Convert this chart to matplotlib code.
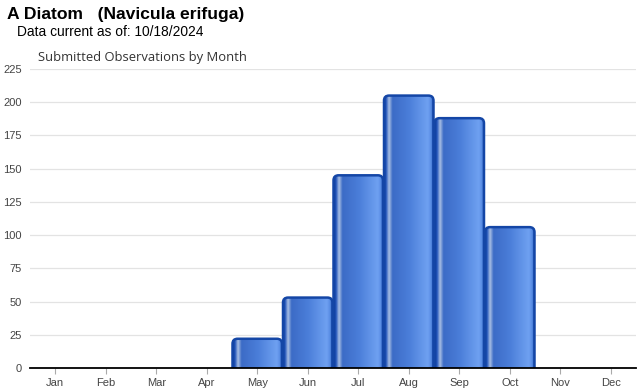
import numpy as np
import matplotlib.pyplot as plt
from matplotlib.patches import FancyBboxPatch
from matplotlib.colors import to_rgb

months = ["Jan", "Feb", "Mar", "Apr", "May", "Jun",
          "Jul", "Aug", "Sep", "Oct", "Nov", "Dec"]
counts = [0, 0, 0, 0, 22, 53, 145, 205, 188, 106, 0, 0]
yticks = [0, 25, 50, 75, 100, 125, 150, 175, 200, 225]

W, H = 640, 390
fig = plt.figure(figsize=(W / 100, H / 100), dpi=100)
ax = fig.add_axes([30 / W, (H - 368) / H, (636 - 30) / W, (368 - 69) / H])

# horizontal gradient used to fill each bar (glassy look)
stops = [(0.00, "#0b3a9a"), (0.04, "#2456ba"), (0.10, "#a9bfe4"),
         (0.17, "#3c6bc6"), (0.50, "#4b7ed9"), (0.88, "#6fa1f1"),
         (0.95, "#5589e2"), (1.00, "#0b3a9a")]
xs = np.linspace(0, 1, 200)
pos = [s[0] for s in stops]
cols = np.array([to_rgb(s[1]) for s in stops])
grad = np.stack([np.interp(xs, pos, cols[:, k]) for k in range(3)], axis=-1)[None, :, :]

width = 0.98
rx = 0.1
ry = 3.8
for i, v in enumerate(counts):
    if v <= 0:
        continue
    x0 = i - width / 2
    patch = FancyBboxPatch((x0, -10), width, v + 10,
                           boxstyle=f"round,pad=0,rounding_size={rx}",
                           mutation_aspect=ry / rx,
                           facecolor="none", edgecolor="#1446a6", lw=1.8, zorder=3)
    ax.add_patch(patch)
    im = ax.imshow(grad, extent=[x0, x0 + width, -10, v], aspect="auto",
                   interpolation="bilinear", zorder=2)
    im.set_clip_path(patch)

ax.set_xlim(-0.5, 11.5)
ax.set_ylim(0, 225)
ax.set_aspect("auto")

ax.set_yticks(yticks)
ax.set_xticks(range(12))
ax.set_xticklabels(months)
ax.grid(axis="y", color="#e3e3e3", lw=0.9, zorder=0)
ax.set_axisbelow(True)
for s in ["top", "right", "left"]:
    ax.spines[s].set_visible(False)
ax.spines["bottom"].set_color("black")
ax.spines["bottom"].set_linewidth(1.3)
ax.spines["bottom"].set_zorder(5)
ax.tick_params(axis="y", length=0, pad=6, labelsize=8, labelcolor="#444444")
ax.tick_params(axis="x", length=4, color="#aaaaaa", width=0.8, pad=3,
               labelsize=8, labelcolor="#444444")
for lab in ax.get_xticklabels() + ax.get_yticklabels():
    lab.set_fontfamily("Liberation Sans")

fig.text(7 / W, 1 - 15 / H, "A Diatom   (Navicula erifuga)", fontsize=12.6,
         fontweight="bold", family="Liberation Sans", va="center", ha="left")
fig.text(17 / W, 1 - 32 / H, "Data current as of: 10/18/2024", fontsize=9.9,
         family="Liberation Sans", va="center", ha="left")
fig.text(38 / W, 1 - 58 / H, "Submitted Observations by Month", fontsize=9.4,
         family="Open Sans", color="#333333", va="center", ha="left")

fig.savefig("out.png", dpi=100)
